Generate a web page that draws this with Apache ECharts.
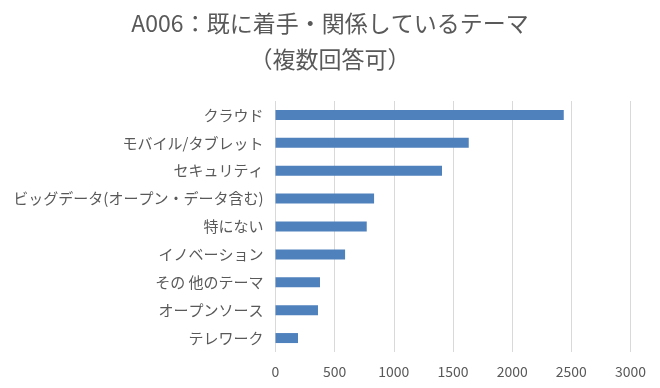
<!DOCTYPE html>
<html><head><meta charset="utf-8">
<script src="https://cdn.jsdelivr.net/npm/echarts@6/dist/echarts.min.js"></script>
<style>html,body{margin:0;padding:0;background:#fff}#c{width:660px;height:388px}</style>
</head><body><div id="c"></div>
<script>
const categories = ['クラウド','モバイル/タブレット','セキュリティ','ビッグデータ(オープン・データ含む)','特にない','イノベーション','その 他のテーマ','オープンソース','テレワーク'];
const values = [2436, 1633, 1407, 833, 771, 588, 376, 359, 190];
const xTicks = [0, 500, 1000, 1500, 2000, 2500, 3000];
const font = '"Noto Sans CJK JP", "Noto Sans", sans-serif';
const chart = echarts.init(document.getElementById('c'));
chart.setOption({
  animation: false,
  title: {
    text: 'A006：既に着手・関係しているテーマ\n（複数回答可）',
    left: 'center',
    top: 0,
    textStyle: {fontFamily: font, fontSize: 23, fontWeight: 'normal', color: '#595959', lineHeight: 36}
  },
  grid: {left: 275.5, right: 29.5, top: 101, height: 251, containLabel: false},
  xAxis: {
    type: 'value', min: xTicks[0], max: xTicks[xTicks.length-1], interval: 500,
    axisLine: {show: false}, axisTick: {show: false},
    splitLine: {lineStyle: {color: '#D9D9D9', width: 1}},
    axisLabel: {fontFamily: font, fontSize: 14, color: '#595959', margin: 13, formatter: v => String(v)}
  },
  yAxis: {
    type: 'category', data: categories, inverse: true,
    axisLine: {show: false}, axisTick: {show: false},
    axisLabel: {fontFamily: font, fontSize: 15, color: '#595959', margin: 12}
  },
  series: [{
    type: 'bar', data: values, barWidth: 10,
    itemStyle: {color: '#4F81BD'}
  }]
});
</script></body></html>
